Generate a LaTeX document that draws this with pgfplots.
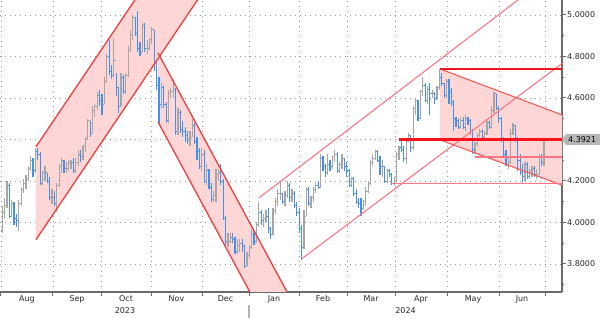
\documentclass[border=0pt]{standalone}
\usepackage{fontspec}
\setmainfont{DejaVu Sans}
\usepackage{pgfplots}
\pgfplotsset{compat=1.18}
\usepackage{pgfplotstable}
\definecolor{barblue}{RGB}{66,145,240}
\definecolor{bargrey}{RGB}{165,165,165}
\definecolor{shade}{RGB}{255,214,214}
\definecolor{chred}{RGB}{240,62,62}
\definecolor{lightred}{RGB}{255,118,128}
\definecolor{hred}{RGB}{245,20,30}
\definecolor{gridc}{RGB}{150,150,150}
\definecolor{axc}{RGB}{105,105,105}
\definecolor{lblbox}{RGB}{182,182,182}

\pgfplotstableread{
i o h l c
0 3.96 4.08 3.95 4.05
1 4.05 4.12 4.02 4.08
2 4.08 4.20 4.07 4.18
3 4.18 4.19 4.02 4.03
4 4.03 4.11 4.03 4.09
5 4.09 4.10 3.99 4.02
6 4.02 4.04 3.98 4.01
7 4.01 4.11 3.96 4.09
8 4.09 4.17 4.08 4.16
9 4.16 4.21 4.14 4.19
10 4.19 4.23 4.16 4.21
11 4.21 4.27 4.20 4.26
12 4.26 4.32 4.25 4.30
13 4.30 4.31 4.22 4.25
14 4.25 4.36 4.24 4.34
15 4.34 4.36 4.30 4.33
16 4.33 4.34 4.18 4.19
17 4.19 4.25 4.18 4.24
18 4.24 4.27 4.20 4.24
19 4.24 4.24 4.19 4.20
20 4.20 4.22 4.11 4.12
21 4.12 4.16 4.09 4.12
22 4.12 4.15 4.08 4.09
23 4.09 4.19 4.05 4.18
24 4.18 4.28 4.17 4.27
25 4.27 4.31 4.24 4.30
26 4.30 4.30 4.24 4.26
27 4.26 4.29 4.24 4.26
28 4.26 4.30 4.25 4.29
29 4.29 4.30 4.26 4.29
30 4.29 4.31 4.24 4.25
31 4.25 4.31 4.24 4.29
32 4.29 4.35 4.27 4.33
33 4.33 4.35 4.29 4.32
34 4.32 4.37 4.30 4.37
35 4.37 4.41 4.34 4.40
36 4.40 4.50 4.40 4.49
37 4.49 4.49 4.41 4.43
38 4.43 4.56 4.43 4.54
39 4.54 4.57 4.51 4.56
40 4.56 4.63 4.54 4.61
41 4.61 4.64 4.56 4.59
42 4.59 4.62 4.52 4.57
43 4.57 4.70 4.57 4.68
44 4.68 4.81 4.67 4.80
45 4.80 4.88 4.71 4.73
46 4.73 4.76 4.69 4.71
47 4.71 4.89 4.70 4.78
48 4.78 4.72 4.61 4.65
49 4.65 4.65 4.53 4.56
50 4.56 4.72 4.56 4.70
51 4.70 4.71 4.62 4.63
52 4.63 4.72 4.62 4.71
53 4.71 4.85 4.70 4.83
54 4.83 4.93 4.82 4.90
55 4.90 5.00 4.88 4.99
56 4.99 4.99 4.90 4.91
57 4.91 5.02 4.82 4.84
58 4.84 4.87 4.80 4.82
59 4.82 4.96 4.82 4.95
60 4.95 4.96 4.82 4.84
61 4.84 4.88 4.81 4.84
62 4.84 4.89 4.83 4.88
63 4.88 4.94 4.86 4.93
64 4.93 4.93 4.73 4.77
65 4.77 4.77 4.64 4.66
66 4.66 4.70 4.48 4.57
67 4.57 4.67 4.55 4.65
68 4.65 4.66 4.55 4.57
69 4.57 4.58 4.48 4.49
70 4.49 4.64 4.48 4.62
71 4.62 4.65 4.60 4.63
72 4.63 4.69 4.60 4.64
73 4.64 4.65 4.42 4.44
74 4.44 4.55 4.42 4.53
75 4.53 4.54 4.43 4.45
76 4.45 4.49 4.41 4.44
77 4.44 4.46 4.39 4.42
78 4.42 4.44 4.38 4.40
79 4.40 4.44 4.37 4.41
80 4.41 4.50 4.41 4.47
81 4.47 4.48 4.38 4.39
82 4.39 4.41 4.30 4.34
83 4.34 4.36 4.26 4.27
84 4.27 4.36 4.25 4.33
85 4.33 4.35 4.19 4.20
86 4.20 4.28 4.18 4.25
87 4.25 4.26 4.16 4.17
88 4.17 4.19 4.10 4.11
89 4.11 4.15 4.10 4.13
90 4.13 4.26 4.10 4.23
91 4.23 4.26 4.20 4.24
92 4.24 4.28 4.18 4.20
93 4.20 4.21 4.01 4.02
94 4.02 4.03 3.89 3.91
95 3.91 3.95 3.88 3.91
96 3.91 3.95 3.90 3.93
97 3.93 3.95 3.90 3.92
98 3.92 3.93 3.85 3.86
99 3.86 3.92 3.85 3.89
100 3.89 3.92 3.86 3.90
101 3.90 3.92 3.86 3.89
102 3.89 3.89 3.78 3.79
103 3.79 3.86 3.79 3.84
104 3.84 3.89 3.83 3.88
105 3.88 3.97 3.87 3.94
106 3.94 3.96 3.89 3.91
107 3.91 4.00 3.90 3.99
108 3.99 4.10 3.98 4.05
109 4.05 4.06 3.99 4.01
110 4.01 4.04 3.98 4.02
111 4.02 4.06 4.00 4.03
112 4.03 4.07 3.95 3.97
113 3.97 3.98 3.92 3.94
114 3.94 4.07 3.94 4.06
115 4.06 4.12 4.04 4.10
116 4.10 4.16 4.08 4.14
117 4.14 4.20 4.11 4.14
118 4.14 4.14 4.09 4.10
119 4.10 4.15 4.08 4.13
120 4.13 4.20 4.12 4.18
121 4.18 4.19 4.10 4.12
122 4.12 4.16 4.10 4.14
123 4.14 4.15 4.07 4.08
124 4.08 4.10 4.03 4.05
125 4.05 4.07 3.95 3.97
126 3.97 3.99 3.82 3.88
127 3.88 4.06 3.87 4.03
128 4.03 4.17 4.03 4.16
129 4.16 4.17 4.08 4.09
130 4.09 4.13 4.07 4.12
131 4.12 4.17 4.10 4.16
132 4.16 4.19 4.14 4.18
133 4.18 4.20 4.16 4.17
134 4.17 4.33 4.17 4.31
135 4.31 4.32 4.25 4.27
136 4.27 4.28 4.22 4.24
137 4.24 4.33 4.23 4.28
138 4.28 4.30 4.25 4.27
139 4.27 4.32 4.26 4.32
140 4.32 4.35 4.29 4.33
141 4.33 4.34 4.24 4.25
142 4.25 4.29 4.24 4.28
143 4.28 4.33 4.26 4.31
144 4.31 4.31 4.25 4.27
145 4.27 4.29 4.22 4.25
146 4.25 4.26 4.17 4.18
147 4.18 4.22 4.17 4.21
148 4.21 4.22 4.13 4.14
149 4.14 4.16 4.09 4.10
150 4.10 4.12 4.07 4.09
151 4.09 4.12 4.03 4.07
152 4.07 4.11 4.06 4.10
153 4.10 4.17 4.08 4.15
154 4.15 4.20 4.14 4.19
155 4.19 4.30 4.18 4.29
156 4.29 4.33 4.27 4.31
157 4.31 4.35 4.30 4.34
158 4.34 4.35 4.29 4.30
159 4.30 4.32 4.23 4.27
160 4.27 4.30 4.22 4.27
161 4.27 4.27 4.19 4.20
162 4.20 4.26 4.19 4.25
163 4.25 4.26 4.22 4.23
164 4.23 4.24 4.18 4.19
165 4.19 4.22 4.18 4.20
166 4.20 4.34 4.20 4.33
167 4.33 4.37 4.30 4.36
168 4.36 4.40 4.34 4.35
169 4.35 4.37 4.29 4.31
170 4.31 4.40 4.28 4.39
171 4.39 4.43 4.39 4.42
172 4.42 4.42 4.34 4.36
173 4.36 4.56 4.35 4.55
174 4.55 4.60 4.52 4.59
175 4.59 4.59 4.49 4.50
176 4.50 4.64 4.50 4.63
177 4.63 4.70 4.61 4.66
178 4.66 4.67 4.58 4.59
179 4.59 4.66 4.57 4.64
180 4.64 4.67 4.52 4.62
181 4.62 4.64 4.60 4.62
182 4.62 4.63 4.57 4.60
183 4.60 4.66 4.59 4.65
184 4.65 4.74 4.64 4.70
185 4.70 4.72 4.66 4.67
186 4.67 4.67 4.60 4.61
187 4.61 4.69 4.60 4.68
188 4.68 4.69 4.57 4.63
189 4.63 4.65 4.56 4.58
190 4.58 4.59 4.44 4.50
191 4.50 4.51 4.46 4.49
192 4.49 4.50 4.45 4.46
193 4.46 4.51 4.45 4.49
194 4.49 4.51 4.45 4.46
195 4.46 4.52 4.44 4.50
196 4.50 4.51 4.47 4.49
197 4.49 4.50 4.42 4.44
198 4.44 4.45 4.33 4.35
199 4.35 4.39 4.33 4.38
200 4.38 4.43 4.37 4.42
201 4.42 4.45 4.41 4.44
202 4.44 4.45 4.40 4.41
203 4.41 4.44 4.40 4.43
204 4.43 4.49 4.42 4.48
205 4.48 4.49 4.45 4.46
206 4.46 4.56 4.46 4.54
207 4.54 4.63 4.53 4.62
208 4.62 4.62 4.54 4.55
209 4.55 4.56 4.48 4.50
210 4.50 4.51 4.39 4.40
211 4.40 4.41 4.32 4.33
212 4.33 4.35 4.27 4.28
213 4.28 4.31 4.26 4.29
214 4.29 4.45 4.28 4.43
215 4.43 4.48 4.42 4.47
216 4.47 4.47 4.39 4.40
217 4.40 4.41 4.25 4.30
218 4.30 4.33 4.23 4.24
219 4.24 4.28 4.19 4.22
220 4.22 4.29 4.20 4.28
221 4.28 4.29 4.21 4.22
222 4.22 4.26 4.21 4.25
223 4.25 4.27 4.22 4.26
224 4.26 4.27 4.22 4.23
225 4.23 4.26 4.21 4.23
226 4.23 4.33 4.23 4.32
227 4.32 4.33 4.27 4.29
228 4.29 4.40 4.27 4.39
}\yld

\pgfplotsset{
  upbar/.style={x filter/.expression={\thisrow{c}<\thisrow{o} ? nan : x}},
  dnbar/.style={x filter/.expression={\thisrow{c}<\thisrow{o} ? x : nan}},
  hl/.style={draw=none, mark=none, error bars/.cd, y dir=both, y explicit, error mark=none,
    error bar style={draw=#1, solid, line width=1.2bp}},
  tk/.style 2 args={only marks, mark=-, mark size=0.75bp,
    mark options={draw=#1, solid, line width=0.9bp, xshift=#2}},
}

\begin{document}
\begin{tikzpicture}
\useasboundingbox (0,0) rectangle (600bp,318bp);
\begin{axis}[
  at={(0bp,26bp)}, anchor=south west,
  scale only axis, width=562bp, height=292bp,
  xmin=-0.92, xmax=235.6, ymin=3.665, ymax=5.0723,
  clip mode=individual,
  axis x line*=bottom, axis y line*=right,
  axis line style={axc, line width=1.5bp},
  tick align=outside,
  major tick length=4bp, minor tick length=2bp,
  tick style={axc, line width=1bp},
  xtick={-0.5,21.38,41.59,62.63,84.10,103.88,124.92,145.13,165.33,187.22,209.10,228.46},
  xticklabels={},
  extra x ticks={10.44,31.49,52.11,73.37,93.99,114.4,135.03,155.23,176.28,198.16,218.78},
  extra x tick labels={Aug,Sep,Oct,Nov,Dec,Jan,Feb,Mar,Apr,May,Jun},
  extra x tick style={major tick length=0pt, grid=none},
  ytick={3.8,4.0,4.2,4.4,4.6,4.8,5.0},
  yticklabels={3.8000,4.0000,4.2000,{},4.6000,4.8000,5.0000},
  minor ytick={3.7,3.9,4.1,4.3,4.5,4.7,4.9},
  grid=major,
  major grid style={gridc, line width=0.8bp, dash pattern=on 0.9bp off 4.1bp},
  ticklabel style={font=\fontsize{8}{9.6}\selectfont, text=black!85},
  xticklabel style={anchor=north, inner sep=0pt, yshift=-3.5bp},
  yticklabel style={anchor=west, inner sep=0pt, xshift=1bp},
]
% shaded channels
\addplot[fill=shade, draw=none] coordinates {(14.23,3.917) (86,5.137) (60,5.143) (14.23,4.365)} -- cycle;
\addplot[fill=shade, draw=none] coordinates {(65.58,4.817) (65.58,4.485) (110,3.543) (125,3.557)} -- cycle;
\addplot[fill=shade, draw=none] coordinates {(184.3,4.740) (236,4.517) (236,4.178) (184.3,4.398)} -- cycle;
% high-low bars (grey: close not below open; blue: close below open)
\addplot[upbar, hl=bargrey]
  table[x=i, y=c, y error plus expr=\thisrow{h}-\thisrow{c}, y error minus expr=\thisrow{c}-\thisrow{l}] {\yld};
\addplot[dnbar, hl=barblue]
  table[x=i, y=c, y error plus expr=\thisrow{h}-\thisrow{c}, y error minus expr=\thisrow{c}-\thisrow{l}] {\yld};
% open (left) and close (right) ticks
\addplot[upbar, tk={bargrey}{-0.75bp}] table[x=i, y=o] {\yld};
\addplot[upbar, tk={bargrey}{0.75bp}] table[x=i, y=c] {\yld};
\addplot[dnbar, tk={barblue}{-0.75bp}] table[x=i, y=o] {\yld};
\addplot[dnbar, tk={barblue}{0.75bp}] table[x=i, y=c] {\yld};
% channel lines
\addplot[chred, line width=1.3bp] coordinates {(14.23,4.365) (60,5.143)};
\addplot[chred, line width=1.3bp] coordinates {(14.23,3.917) (86,5.137)};
\addplot[chred, line width=1.3bp] coordinates {(65.58,4.817) (125,3.557)};
\addplot[chred, line width=1.3bp] coordinates {(65.58,4.485) (110,3.543)};
\addplot[lightred, line width=1.1bp] coordinates {(108.1,4.119) (225,5.142)};
\addplot[lightred, line width=1.1bp] coordinates {(126.2,3.826) (236,4.770)};
\addplot[chred!85, line width=1.1bp] coordinates {(184.3,4.740) (236,4.517)};
\addplot[chred!85, line width=1.1bp] coordinates {(184.3,4.398) (236,4.178)};
% horizontal levels
\addplot[lightred, line width=1.5bp] coordinates {(164.1,4.187) (236,4.187)};
\addplot[lightred, line width=1.5bp] coordinates {(199.0,4.315) (236,4.315)};
\addplot[hred, line width=2.8bp] coordinates {(167.0,4.400) (236,4.400)};
\addplot[hred, line width=2.8bp] coordinates {(184.3,4.740) (236,4.740)};
\coordinate (lbl) at (axis cs:235.6,4.40);
\end{axis}
% last value label
\fill[lblbox] (lbl) -- ++(4bp,5.5bp) -- ++(40bp,0bp) -- ++(0bp,-11bp) -- ++(-40bp,0bp) -- cycle;
\node[anchor=west, inner sep=0pt, font=\fontsize{8}{9.6}\selectfont, text=black] at ([xshift=6bp]lbl) {4.3921};
\node[anchor=north, inner sep=0pt, font=\fontsize{8}{9.6}\selectfont, text=black!85] at (125bp,11bp) {2023};
\node[anchor=north, inner sep=0pt, font=\fontsize{8}{9.6}\selectfont, text=black!85] at (405.5bp,11bp) {2024};
\draw[gray!60, line width=1.2bp] (249bp,13bp) -- (249bp,0bp);
\end{tikzpicture}
\end{document}
